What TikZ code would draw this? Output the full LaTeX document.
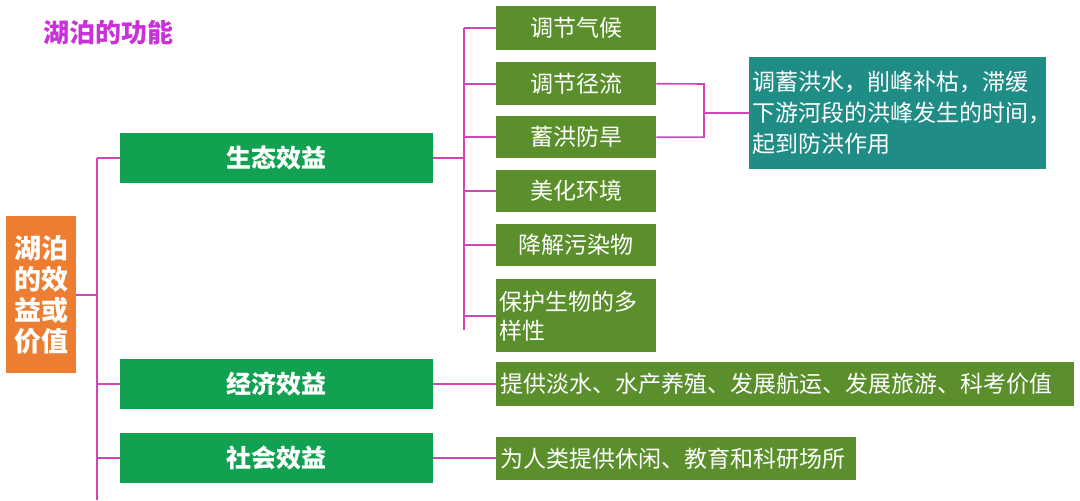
\documentclass[tikz,border=0pt]{standalone}
\usepackage{fontspec}
\setmainfont{Noto Sans CJK SC}
\usetikzlibrary{positioning}
\definecolor{leafgreen}{HTML}{5A8F2C}
\definecolor{maingreen}{HTML}{12A150}
\definecolor{rootorange}{HTML}{ED7D31}
\definecolor{noteteal}{HTML}{1F8C86}
\definecolor{linkpink}{HTML}{D444B4}
\definecolor{titlepurple}{HTML}{C832D8}
\begin{document}
\begin{tikzpicture}[x=1pt,y=-1pt,
    rootbox/.style={rectangle,fill=rootorange,text=white,anchor=north west,
		inner sep=0pt,font=\bfseries\fontsize{27}{31}\selectfont,align=center},
    mainbox/.style={rectangle,fill=maingreen,text=white,anchor=north west,
		inner sep=0pt,minimum width=313pt,minimum height=50pt,
		font=\bfseries\fontsize{25}{28}\selectfont},
    leafbox/.style={rectangle,fill=leafgreen,text=white,anchor=north west,
		inner sep=0pt,minimum width=160pt,font=\fontsize{23}{29}\selectfont},
% Note style
    notebox/.style={rectangle,fill=noteteal,text=white,anchor=north west,
		inner sep=0pt,minimum width=297pt,minimum height=112pt,
		text width=290pt,align=left,font=\fontsize{23}{31}\selectfont},
    link/.style={draw=linkpink,line width=1.6pt}
    ]
   \useasboundingbox (0,0) rectangle (1080,501);
%%% Title
   \node [anchor=west,text=titlepurple,font=\bfseries\fontsize{26}{30}\selectfont]
     (title) at (40,33) {湖泊的功能};
%%% Root and main branches
   \node [rootbox,minimum width=70pt,minimum height=157pt] (root) at (6,216)
     {湖泊\\的效\\益或\\价值};
   \node [mainbox] (eco) at (120,133) {生态效益};
   \node [mainbox] (econ) at (120,359) {经济效益};
   \node [mainbox] (soc) at (120,433) {社会效益};
%%% Leaves of the first branch
   \node [leafbox,minimum height=44pt] (l1) at (496,6) {调节气候};
   \node [leafbox,minimum height=43pt] (l2) at (496,62) {调节径流};
   \node [leafbox,minimum height=42pt] (l3) at (496,116) {蓄洪防旱};
   \node [leafbox,minimum height=42pt] (l4) at (496,170) {美化环境};
   \node [leafbox,minimum height=42pt] (l5) at (496,224) {降解污染物};
   \node [leafbox,minimum height=73pt,text width=154pt,align=left] (l6) at (496,279)
     {保护生物的多\\样性};
   \node [notebox] (note) at (749,57)
     {调蓄洪水，削峰补枯，滞缓\\下游河段的洪峰发生的时间，\\起到防洪作用};
%%% Leaves of the other branches
   \node [leafbox,minimum width=578pt,minimum height=44pt,text width=570pt,align=left]
     (econleaf) at (496,362) {提供淡水、水产养殖、发展航运、发展旅游、科考价值};
   \node [leafbox,minimum width=360pt,minimum height=43pt,text width=352pt,align=left]
     (socleaf) at (496,437) {为人类提供休闲、教育和科研场所};
%%% Connectors
   \coordinate (trunkl) at (97,158);
   \coordinate (trunkr) at (464,28);
   \coordinate (bracket) at (704,84);
   \draw [link] (root.east) -- (root.east -| trunkl);
   \draw [link] (trunkl) -- (97,500);
   \foreach \n in {eco,econ,soc}
     \draw [link] (\n.west -| trunkl) -- (\n.west);
   \draw [link] (eco.east) -- (eco.east -| trunkr);
   \draw [link] (trunkr) -- (464,330);
   \foreach \n in {l1,l2,l3,l4,l5,l6}
     \draw [link] (\n.west -| trunkr) -- (\n.west);
   \draw [link] (l2.east) -- (bracket) -- (l3.east -| bracket) -- (l3.east);
   \draw [link] (note.west -| bracket) -- (note.west);
   \draw [link] (econ.east) -- (econ.east -| econleaf.west);
   \draw [link] (soc.east) -- (soc.east -| socleaf.west);
\end{tikzpicture}
\end{document}
